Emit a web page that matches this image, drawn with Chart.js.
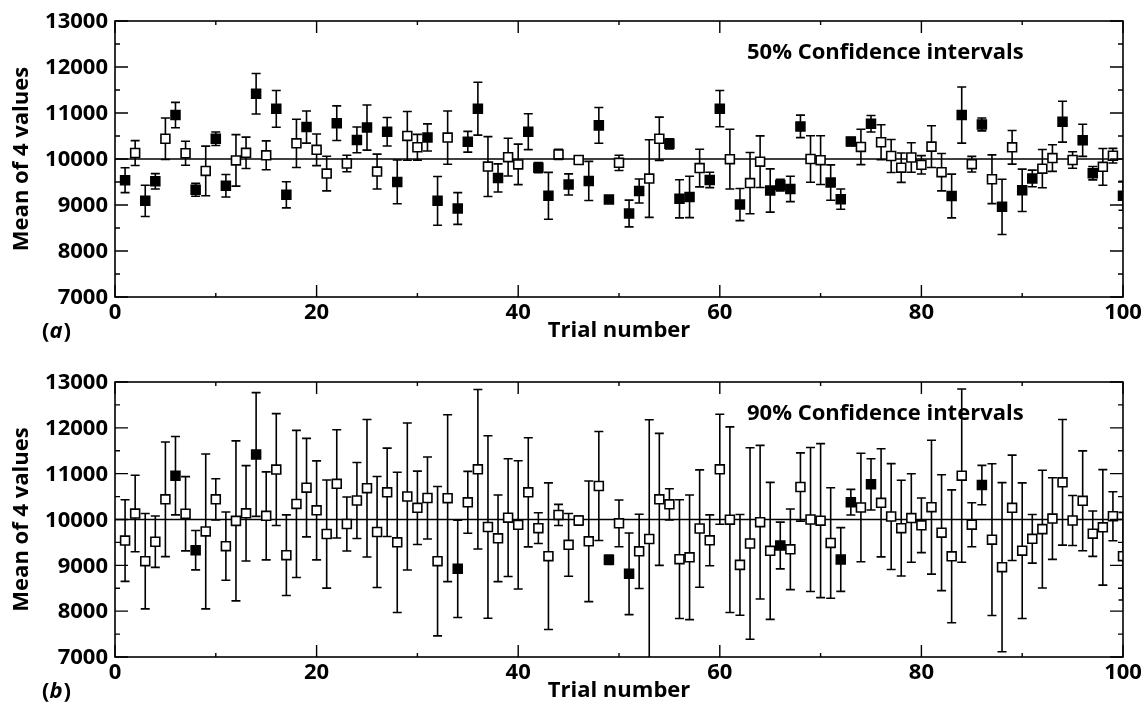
<!DOCTYPE html>
<html>
<head>
<meta charset="utf-8">
<script src="https://cdn.jsdelivr.net/npm/chart.js@4.4.1/dist/chart.umd.min.js"></script>
<style>
  html, body { margin: 0; padding: 0; background: #fff; }
  #wrap { position: relative; width: 1145px; height: 711px; }
  canvas { position: absolute; left: 0; }
</style>
</head>
<body>
<div id="wrap">
  <canvas id="chartA" width="1145" height="350" style="top:0"></canvas>
  <canvas id="chartB" width="1145" height="361" style="top:350px"></canvas>
</div>
<script>
// trial number, mean of 4 values, and half widths of the 50% / 90% intervals
const trialNumbers = [
  1, 2, 3, 4, 5, 6, 7, 8, 9, 10, 11, 12, 13, 14, 15, 16, 17, 18, 19, 20,
  21, 22, 23, 24, 25, 26, 27, 28, 29, 30, 31, 32, 33, 34, 35, 36, 37, 38, 39, 40,
  41, 42, 43, 44, 45, 46, 47, 48, 49, 50, 51, 52, 53, 54, 55, 56, 57, 58, 59, 60,
  61, 62, 63, 64, 65, 66, 67, 68, 69, 70, 71, 72, 73, 74, 75, 76, 77, 78, 79, 80,
  81, 82, 83, 84, 85, 86, 87, 88, 89, 90, 91, 92, 93, 94, 95, 96, 97, 98, 99, 100
]
const meanValues = [
  9540, 10130, 9090, 9515, 10440, 10955, 10125, 9330, 9740, 10440,
  9418, 9970, 10135, 11418, 10080, 11090, 9222, 10340, 10695, 10200,
  9683, 10778, 9902, 10415, 10683, 9727, 10593, 9502, 10502, 10255,
  10469, 9091, 10465, 8923, 10375, 11095, 9836, 9589, 10040, 9883,
  10593, 9811, 9200, 10100, 9447, 9978, 9524, 10731, 9120, 9916,
  8815, 9305, 9575, 10440, 10331, 9135, 9175, 9803, 9545, 11095,
  9997, 9010, 9476, 9942, 9316, 9433, 9349, 10709, 10000, 9975,
  9488, 9127, 10378, 10262, 10767, 10364, 10065, 9811, 10032, 9873,
  10269, 9713, 9196, 10956, 9887, 10752, 9560, 8960, 10254, 9320,
  9578, 9790, 10020, 10811, 9978, 10407, 9691, 9829, 10072, 9200
]
const halfWidth50 = [
  270, 270, 340, 167, 450, 275, 260, 140, 540, 146,
  245, 560, 340, 440, 315, 400, 285, 525, 350, 345,
  377, 377, 180, 280, 490, 380, 310, 475, 530, 280,
  295, 530, 580, 345, 225, 575, 650, 305, 410, 440,
  390, 110, 510, 110, 230, 35, 425, 390, 35, 165,
  290, 260, 845, 470, 110, 415, 450, 410, 167, 395,
  650, 350, 665, 560, 470, 125, 275, 245, 505, 530,
  385, 220, 90, 385, 180, 380, 360, 320, 320, 200,
  455, 405, 475, 610, 170, 140, 530, 600, 365, 460,
  180, 415, 290, 445, 180, 350, 145, 400, 160, 315
]
const halfWidth90 = [
  890, 835, 1040, 560, 1250, 855, 810, 430, 1690, 450,
  745, 1745, 1040, 1350, 960, 1220, 880, 1605, 1075, 1080,
  1180, 1180, 590, 830, 1500, 1210, 965, 1530, 1605, 800,
  895, 1630, 1820, 1060, 675, 1740, 1990, 945, 1285, 1400,
  1190, 335, 1600, 230, 685, 100, 1315, 1190, 100, 510,
  890, 810, 2600, 1440, 340, 1295, 1360, 1280, 555, 1200,
  2025, 1100, 2090, 1675, 1495, 510, 880, 745, 1570, 1680,
  1205, 695, 280, 1185, 560, 1180, 1155, 1045, 965, 595,
  1460, 1265, 1450, 1890, 480, 430, 1655, 1845, 1150, 1480,
  530, 1285, 890, 1370, 545, 1090, 495, 1260, 535, 955
]
const trueValue = 10000
const xTickValues = [0, 20, 40, 60, 80, 100]
const yTickValues = [7000, 8000, 9000, 10000, 11000, 12000, 13000]

const FONT = '"Open Sans", "DejaVu Sans", sans-serif'

// error bars + the horizontal line at the true value, under the squares
const intervalBars = {
  id: 'intervalBars',
  beforeDatasetsDraw(chart, args, opts) {
    const { ctx, chartArea: a, scales: { x, y } } = chart
    const half = opts.halfWidths
    ctx.save()
    ctx.beginPath()
    ctx.rect(a.left, a.top, a.right - a.left, a.bottom - a.top)
    ctx.clip()
    ctx.strokeStyle = '#000'

    ctx.lineWidth = 1.6
    const yRef = y.getPixelForValue(trueValue)
    ctx.beginPath()
    ctx.moveTo(a.left, yRef)
    ctx.lineTo(a.right, yRef)
    ctx.stroke()

    ctx.lineWidth = opts.barWidth
    for (let i = 0; i < trialNumbers.length; i++) {
      const px = x.getPixelForValue(trialNumbers[i])
      const top = y.getPixelForValue(meanValues[i] + half[i])
      const bot = y.getPixelForValue(meanValues[i] - half[i])
      ctx.beginPath()
      ctx.moveTo(px, top)
      ctx.lineTo(px, bot)
      ctx.moveTo(px - opts.cap, top)
      ctx.lineTo(px + opts.cap, top)
      ctx.moveTo(px - opts.cap, bot)
      ctx.lineTo(px + opts.cap, bot)
      ctx.stroke()
    }
    ctx.restore()
  }
}

// box frame, inward ticks on all four sides, labels and titles
const panelFrame = {
  id: 'panelFrame',
  afterDraw(chart, args, opts) {
    const { ctx, chartArea: a, scales: { x, y } } = chart
    ctx.save()
    ctx.strokeStyle = '#000'
    ctx.fillStyle = '#000'
    ctx.lineWidth = 1.6
    ctx.strokeRect(a.left, a.top, a.right - a.left, a.bottom - a.top)

    ctx.lineWidth = 1.4
    ctx.beginPath()
    for (let v = 0; v <= 100; v += 10) {
      const px = x.getPixelForValue(v)
      const len = v % 20 === 0 ? 12 : 4
      ctx.moveTo(px, a.bottom)
      ctx.lineTo(px, a.bottom - len)
      ctx.moveTo(px, a.top)
      ctx.lineTo(px, a.top + len)
    }
    for (let v = 7000; v <= 13000; v += 500) {
      const py = y.getPixelForValue(v)
      const len = v % 1000 === 0 ? 13 : 5
      ctx.moveTo(a.left, py)
      ctx.lineTo(a.left + len, py)
      ctx.moveTo(a.right, py)
      ctx.lineTo(a.right - len, py)
    }
    ctx.stroke()

    ctx.font = `700 22px ${FONT}`
    ctx.textBaseline = 'middle'
    ctx.textAlign = 'right'
    yTickValues.forEach((v) => {
      ctx.fillText(String(v), a.left - 7, y.getPixelForValue(v) + 1)
    })
    ctx.textAlign = 'center'
    xTickValues.forEach((v) => {
      ctx.fillText(String(v), x.getPixelForValue(v), a.bottom + 16)
    })
    ctx.fillText('Trial number', (a.left + a.right) / 2, a.bottom + 34)

    // panel letter: upright brackets, italic letter
    const ly = a.bottom + 35
    let lx = 42
    ctx.textAlign = 'left'
    ctx.fillText('(', lx, ly)
    lx += ctx.measureText('(').width
    ctx.font = `italic 700 22px ${FONT}`
    ctx.fillText(opts.letter, lx, ly)
    lx += ctx.measureText(opts.letter).width + 1
    ctx.font = `700 22px ${FONT}`
    ctx.fillText(')', lx, ly)

    ctx.fillText(opts.note, 747, a.top + 32)

    ctx.translate(22, (a.top + a.bottom) / 2)
    ctx.rotate(-Math.PI / 2)
    ctx.textAlign = 'center'
    ctx.fillText('Mean of 4 values', 0, 0)
    ctx.restore()
  }
}

function makePanel(canvasId, halfWidths, note, letter, padding) {
  const fills = meanValues.map((m, i) =>
    (m - halfWidths[i] > trueValue || m + halfWidths[i] < trueValue) ? '#000' : '#fff')
  return new Chart(document.getElementById(canvasId), {
    type: 'scatter',
    data: {
      datasets: [{
        data: trialNumbers.map((t, i) => ({ x: t, y: meanValues[i] })),
        pointStyle: 'rect',
        pointRadius: 6.3,
        pointHoverRadius: 6.3,
        pointBorderWidth: 1.6,
        pointBorderColor: '#000',
        pointBackgroundColor: fills,
      }]
    },
    options: {
      responsive: false,
      animation: false,
      devicePixelRatio: 1,
      layout: { padding },
      scales: {
        x: { type: 'linear', min: 0, max: 100, display: false },
        y: { type: 'linear', min: 7000, max: 13000, display: false }
      },
      plugins: {
        legend: { display: false },
        tooltip: { enabled: false },
        intervalBars: { halfWidths, barWidth: 1.6, cap: 4.5 },
        panelFrame: { note, letter }
      }
    },
    plugins: [intervalBars, panelFrame]
  })
}

makePanel('chartA', halfWidth50, '50% Confidence intervals', 'a',
  { left: 115, right: 22, top: 21, bottom: 53 })
makePanel('chartB', halfWidth90, '90% Confidence intervals', 'b',
  { left: 115, right: 22, top: 32, bottom: 54 })
</script>
</body>
</html>
